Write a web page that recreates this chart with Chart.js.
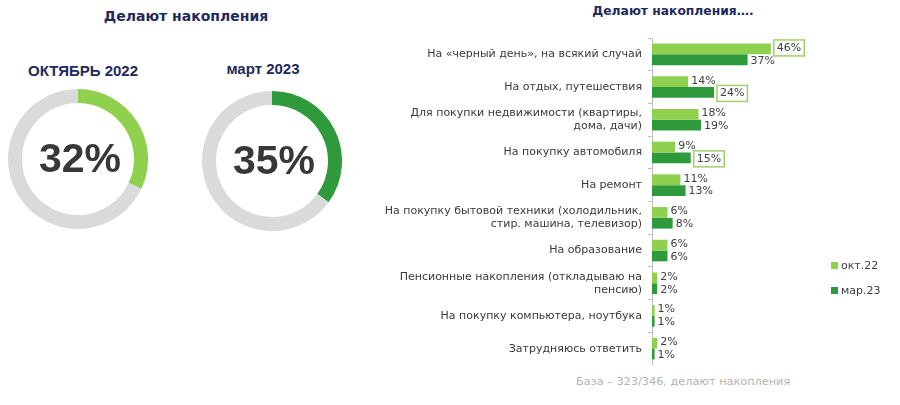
<!DOCTYPE html>
<html><head><meta charset="utf-8">
<script src="https://cdn.jsdelivr.net/npm/chart.js@4/dist/chart.umd.min.js"></script>
<style>
html,body{margin:0;padding:0;background:#fff;width:900px;height:405px;overflow:hidden;font-family:"DejaVu Sans",sans-serif;}
.abs{position:absolute;}
.navy{color:#1f2a5c;font-weight:bold;white-space:nowrap;}
#legend div{display:flex;align-items:center;font-size:11px;color:#404040;height:14px;}
#legend span.sw{display:inline-block;width:7px;height:7px;margin-right:3px;}
</style></head>
<body>
<div class="abs navy" style="left:0;width:372px;top:8px;text-align:center;font-size:14px;">Делают накопления</div>
<div class="abs navy" style="left:0;width:166px;top:62px;text-align:center;font-size:15px;font-family:'Liberation Sans',sans-serif;">ОКТЯБРЬ 2022</div>
<div class="abs navy" style="left:180px;width:166px;top:60px;text-align:center;font-size:15px;font-family:'Liberation Sans',sans-serif;">март 2023</div>
<div class="abs" style="left:8px;top:89px;width:140px;height:140px;"><canvas id="d1"></canvas></div>
<div class="abs" style="left:202px;top:91px;width:140px;height:140px;"><canvas id="d2"></canvas></div>
<div class="abs navy" style="left:560px;width:226px;top:4px;text-align:center;font-size:12.3px;">Делают накопления….</div>
<div class="abs" style="left:370px;top:38px;width:530px;height:327px;"><canvas id="bars"></canvas></div>
<div class="abs" id="legend" style="left:831px;top:258px;"></div>
<div class="abs" style="left:576px;top:375px;font-size:11.3px;color:#b4b4b4;white-space:nowrap;">База – 323/346, делают накопления</div>
<script>
const donutLabels = ['ОКТЯБРЬ 2022','март 2023'];
const donutValues = [32, 35];
const categories = [
  'На «черный день», на всякий случай',
  'На отдых, путешествия',
  ['Для покупки недвижимости (квартиры,','дома, дачи)'],
  'На покупку автомобиля',
  'На ремонт',
  ['На покупку бытовой техники (холодильник,','стир. машина, телевизор)'],
  'На образование',
  ['Пенсионные накопления (откладываю на','пенсию)'],
  'На покупку компьютера, ноутбука',
  'Затрудняюсь ответить'
];
const seriesNames = ['окт.22','мар.23'];
const oct22 = [46, 14, 18, 9, 11, 6, 6, 2, 1, 2];
const mar23 = [37, 24, 19, 15, 13, 8, 6, 2, 1, 1];
const oct22Highlight = [true, false, false, false, false, false, false, false, false, false];
const mar23Highlight = [false, true, false, true, false, false, false, false, false, false];

const LIGHT = '#8fd14f', DARK = '#2f9a3c', GRAY = '#dadada';

const centerText = {
  id: 'centerText',
  afterDraw(chart, args, opts) {
    const {ctx} = chart;
    const a = chart.getDatasetMeta(0).data[0];
    ctx.save();
    ctx.font = 'bold 41px "Liberation Sans", sans-serif';
    ctx.fillStyle = '#383838';
    ctx.textAlign = 'center';
    ctx.textBaseline = 'middle';
    ctx.fillText(opts.text, a.x + 2, a.y + 2);
    ctx.restore();
  }
};

function donut(id, value, color) {
  new Chart(document.getElementById(id), {
    type: 'doughnut',
    data: { labels: ['да', 'нет'], datasets: [{ data: [value, 100 - value], backgroundColor: [color, GRAY], borderWidth: 0 }] },
    options: {
      responsive: true, maintainAspectRatio: false, animation: false,
      cutout: '80%',
      plugins: { legend: { display: false }, tooltip: { enabled: false }, centerText: { text: value + '%' } },
      layout: { padding: 0 }
    },
    plugins: [centerText]
  });
}
donut('d1', donutValues[0], LIGHT);
donut('d2', donutValues[1], DARK);

const highlights = [oct22Highlight, mar23Highlight];
const barLabels = {
  id: 'barLabels',
  afterDatasetsDraw(chart) {
    const {ctx} = chart;
    ctx.save();
    ctx.font = '11px "DejaVu Sans", sans-serif';
    ctx.textBaseline = 'middle';
    ctx.textAlign = 'left';
    chart.data.datasets.forEach((ds, di) => {
      chart.getDatasetMeta(di).data.forEach((bar, i) => {
        const txt = ds.data[i] + '%';
        const x = bar.x + 3;
        const y = bar.y + (di === 0 ? -1 : 1);
        if (highlights[di][i]) {
          const w = ctx.measureText(txt).width + 6;
          ctx.strokeStyle = '#9fd06a';
          ctx.lineWidth = 1.5;
          ctx.fillStyle = '#ffffff';
          ctx.fillRect(x, y - 8, w, 16);
          ctx.strokeRect(x, y - 8, w, 16);
          ctx.fillStyle = '#404040';
          ctx.fillText(txt, x + 3, y);
        } else {
          ctx.fillStyle = '#404040';
          ctx.fillText(txt, x, y);
        }
      });
    });
    ctx.restore();
  }
};

new Chart(document.getElementById('bars'), {
  type: 'bar',
  data: {
    labels: categories,
    datasets: [
      { label: seriesNames[0], data: oct22, backgroundColor: LIGHT, categoryPercentage: 0.66, barPercentage: 1 },
      { label: seriesNames[1], data: mar23, backgroundColor: DARK, categoryPercentage: 0.66, barPercentage: 1 }
    ]
  },
  options: {
    indexAxis: 'y',
    responsive: true, maintainAspectRatio: false, animation: false,
    layout: { padding: 0 },
    plugins: { legend: { display: false }, tooltip: { enabled: false } },
    scales: {
      x: { display: false, min: 0, max: 96 },
      y: {
        afterFit(scale) { scale.width = 282; scale.paddingTop = 0; scale.paddingBottom = 0; },
        grid: { display: true, drawOnChartArea: false, drawTicks: true, tickLength: 4, color: '#bfbfbf', offset: true },
        border: { display: true, color: '#bfbfbf' },
        ticks: { color: '#3a3a3a', font: { family: '"DejaVu Sans", sans-serif', size: 11 }, padding: 6, autoSkip: false }
      }
    }
  },
  plugins: [barLabels]
});

const lg = document.getElementById('legend');
[[seriesNames[0], LIGHT], [seriesNames[1], DARK]].forEach(([n, c], i) => {
  const d = document.createElement('div');
  d.style.marginBottom = i === 0 ? '11px' : '0';
  d.innerHTML = '<span class="sw" style="background:' + c + '"></span>' + n;
  lg.appendChild(d);
});
</script>
</body></html>
